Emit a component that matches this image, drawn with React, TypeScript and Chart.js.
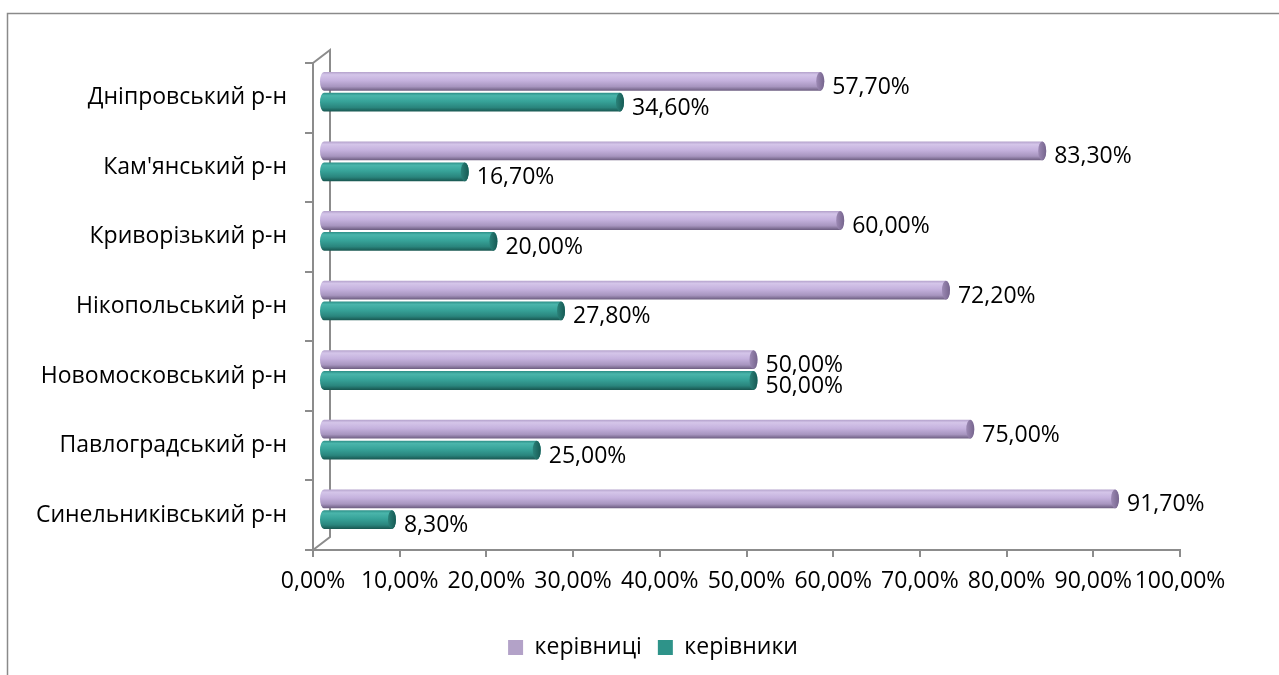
import React, { useEffect, useRef } from "react";
import { Chart, registerables } from "chart.js";

Chart.register(...registerables);

const categories = [
  "Дніпровський р-н",
  "Кам'янський р-н",
  "Криворізький р-н",
  "Нікопольський р-н",
  "Новомосковський р-н",
  "Павлоградський р-н",
  "Синельниківський р-н",
];
const seriesNames = ["керівниці", "керівники"];
const kerivnytsi = [57.7, 83.3, 60.0, 72.2, 50.0, 75.0, 91.7];
const kerivnyky = [34.6, 16.7, 20.0, 27.8, 50.0, 25.0, 8.3];
const xTicks = [0, 10, 20, 30, 40, 50, 60, 70, 80, 90, 100];
const legendColors = ["#b3a2c8", "#2e9389"];

const FONT = "'Open Sans', 'Noto Sans', sans-serif";
const FS = 23;
const DX = 7;
const DY = -6;
const AXIS = "#8c8c8c";
const LEGEND_SHIFT = 63;

const fmt = (v: number) => v.toFixed(2).replace(".", ",") + "%";

const palettes = [
  {
    stops: ["#b3a1cb", "#d4c5e9", "#c5b2de", "#a795bf", "#6c5d80"],
    cap: ["#9c89b4", "#76658d"],
  },
  {
    stops: ["#2c8f87", "#4ab5ab", "#37a399", "#2a857d", "#185650"],
    cap: ["#2a8279", "#175a54"],
  },
];

function drawCylinder(ctx: CanvasRenderingContext2D, x0: number, x1: number, yc: number, h: number, pal: any) {
  const top = yc - h / 2;
  const ry = h / 2;
  const rx = 4;
  const g = ctx.createLinearGradient(0, top, 0, top + h);
  const pos = [0, 0.15, 0.45, 0.78, 1];
  pal.stops.forEach((c: string, i: number) => g.addColorStop(pos[i], c));
  ctx.beginPath();
  ctx.moveTo(x1, top);
  ctx.lineTo(x0, top);
  ctx.ellipse(x0, yc, rx, ry, 0, -Math.PI / 2, Math.PI / 2, true);
  ctx.lineTo(x1, top + h);
  ctx.ellipse(x1, yc, rx, ry, 0, Math.PI / 2, -Math.PI / 2, true);
  ctx.closePath();
  ctx.fillStyle = g;
  ctx.fill();
  const cg = ctx.createLinearGradient(x1 - rx, 0, x1 + rx, 0);
  cg.addColorStop(0, pal.cap[0]);
  cg.addColorStop(1, pal.cap[1]);
  ctx.beginPath();
  ctx.ellipse(x1, yc, rx, ry, 0, 0, Math.PI * 2);
  ctx.fillStyle = cg;
  ctx.fill();
}

const cylinderPlugin = {
  id: "cyl3d",
  afterLayout(chart: any) {
    if (chart.legend) {
      chart.legend.left += LEGEND_SHIFT;
      chart.legend.right += LEGEND_SHIFT;
    }
  },
  beforeDraw(chart: any) {
    const ctx = chart.ctx;
    ctx.save();
    ctx.fillStyle = "#ffffff";
    ctx.fillRect(0, 0, chart.width, chart.height);
    ctx.strokeStyle = "#8a8a8a";
    ctx.lineWidth = 1.5;
    ctx.beginPath();
    ctx.moveTo(7.5, chart.height);
    ctx.lineTo(7.5, 13.5);
    ctx.lineTo(chart.width, 13.5);
    ctx.stroke();
    ctx.restore();
  },
  beforeDatasetsDraw(chart: any) {
    const ctx = chart.ctx;
    const a = chart.chartArea;
    const bx = a.left + 17;
    ctx.save();
    ctx.strokeStyle = AXIS;
    ctx.lineWidth = 2;
    ctx.beginPath();
    ctx.moveTo(a.left, a.top);
    ctx.lineTo(bx, a.top - 13);
    ctx.lineTo(bx, a.bottom - 13);
    ctx.lineTo(a.left, a.bottom);
    ctx.stroke();
    ctx.restore();
  },
  afterDatasetsDraw(chart: any) {
    const ctx = chart.ctx;
    ctx.save();
    ctx.translate(DX, DY);
    chart.data.datasets.forEach((ds: any, di: number) => {
      const meta = chart.getDatasetMeta(di);
      meta.data.forEach((el: any) => {
        const p = el.getProps(["x", "y", "base", "height"], true);
        drawCylinder(ctx, p.base + 3, p.x, p.y, p.height, palettes[di]);
      });
    });
    ctx.restore();
    ctx.save();
    ctx.fillStyle = "#000";
    ctx.font = `${FS}px ${FONT}`;
    ctx.textAlign = "left";
    ctx.textBaseline = "middle";
    chart.data.datasets.forEach((ds: any, di: number) => {
      const meta = chart.getDatasetMeta(di);
      meta.data.forEach((el: any, i: number) => {
        const p = el.getProps(["x", "y"], true);
        ctx.fillText(fmt(ds.data[i]), p.x + DX + 12, p.y);
      });
    });
    ctx.restore();
  },
};

export default function App() {
  const ref = useRef<HTMLCanvasElement>(null);
  useEffect(() => {
    if (!ref.current) return;
    const chart = new Chart(ref.current, {
      type: "bar",
      data: {
        labels: categories,
        datasets: [
          {
            label: seriesNames[0],
            data: kerivnytsi,
            backgroundColor: "rgba(0,0,0,0)",
            borderWidth: 0,
          },
          {
            label: seriesNames[1],
            data: kerivnyky,
            backgroundColor: "rgba(0,0,0,0)",
            borderWidth: 0,
          },
        ],
      },
      options: {
        indexAxis: "y",
        responsive: false,
        animation: false,
        devicePixelRatio: 1,
        datasets: {
          bar: {
            categoryPercentage: 0.6,
            barPercentage: 0.9,
          },
        },
        layout: { padding: { top: 63, right: 99, left: 0, bottom: 6 } },
        scales: {
          x: {
            min: 0,
            max: 100,
            afterBuildTicks: (s: any) => {
              s.ticks = xTicks.map((v) => ({ value: v }));
            },
            afterFit: (s: any) => {
              s.height = 70;
            },
            grid: {
              drawOnChartArea: false,
              drawTicks: true,
              tickLength: 7,
              color: AXIS,
              lineWidth: 2,
            },
            border: { display: true, color: AXIS, width: 2 },
            ticks: {
              padding: 11,
              color: "#000",
              font: { family: FONT, size: FS },
              callback: (v: any) => fmt(Number(v)),
              maxRotation: 0,
              autoSkip: false,
            },
          },
          y: {
            afterFit: (s: any) => {
              s.width = 313;
            },
            grid: {
              drawOnChartArea: false,
              drawTicks: true,
              tickLength: 8,
              color: AXIS,
              lineWidth: 2,
            },
            border: { display: true, color: AXIS, width: 2 },
            ticks: {
              padding: 18,
              color: "#000",
              font: { family: FONT, size: FS },
            },
          },
        },
        plugins: {
          legend: {
            position: "bottom",
            labels: {
              boxWidth: 15,
              boxHeight: 15,
              padding: 16,
              color: "#000",
              font: { family: FONT, size: FS },
              generateLabels: (chart: any) => {
                const items = Chart.defaults.plugins.legend.labels.generateLabels(chart);
                return items.map((it: any, i: number) => ({
                  ...it,
                  fillStyle: legendColors[i],
                  strokeStyle: legendColors[i],
                  lineWidth: 0,
                }));
              },
            },
          },
          tooltip: { enabled: false },
        },
      },
      plugins: [cylinderPlugin],
    } as any);
    return () => chart.destroy();
  }, []);
  return (
    <canvas
      ref={ref}
      width={1279}
      height={675}
      style={{ position: "absolute", left: 0, top: 0, width: 1279, height: 675 }}
    />
  );
}
